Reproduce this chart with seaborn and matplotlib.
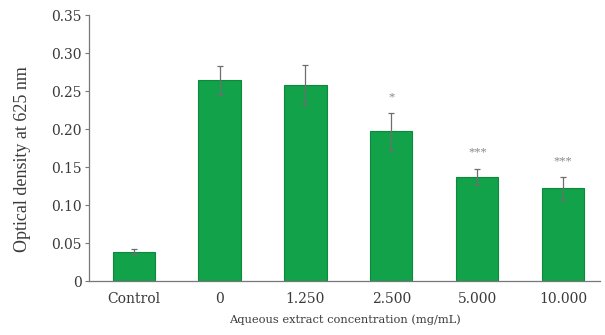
import matplotlib
matplotlib.use("Agg")
import matplotlib.pyplot as plt
import seaborn as sns
import pandas as pd

# Optical density per extract concentration
categories = ["Control", "0", "1.250", "2.500", "5.000", "10.000"]
means = [0.038, 0.264, 0.258, 0.197, 0.137, 0.122]
errors = [0.004, 0.019, 0.026, 0.024, 0.011, 0.015]
significance = ["", "", "", "*", "***", "***"]
yticks = [0, 0.05, 0.10, 0.15, 0.20, 0.25, 0.30, 0.35]
ytick_labels = ["0", "0.05", "0.10", "0.15", "0.20", "0.25", "0.30", "0.35"]

sns.set_style("white")
plt.rcParams["font.family"] = ["DejaVu Serif"]

df = pd.DataFrame({"conc": categories, "od": means})

fig = plt.figure(figsize=(6.05, 3.35), dpi=100)
ax = fig.add_axes([0.147, 0.161, 0.845, 0.794])

sns.barplot(data=df, x="conc", y="od", order=categories, color="#12a24a",
            saturation=1, width=0.49, edgecolor="#0c8a3c", linewidth=0.8,
            errorbar=None, ax=ax)

ax.errorbar(range(len(categories)), means, yerr=errors, fmt="none",
            ecolor="#6e6e6e", elinewidth=0.9, capsize=2.5, capthick=0.9)

for i, (m, e, s) in enumerate(zip(means, errors, significance)):
    if s:
        ax.text(i, m + e + 0.021, s, ha="center", va="center",
                fontsize=9, color="#8a8a8a",
                family=["Liberation Serif"])

ax.set_ylim(0, 0.35)
ax.set_xlim(-0.52, 5.43)
ax.set_yticks(yticks)
ax.set_yticklabels(ytick_labels)
ax.tick_params(axis="y", direction="out", length=3, width=0.8,
               color="#777777", labelsize=10, labelcolor="#3a3a3a", left=True,
               pad=2)
ax.tick_params(axis="x", length=0, labelsize=10, labelcolor="#3a3a3a", pad=8)

for side in ["top", "right"]:
    ax.spines[side].set_visible(False)
for side in ["left", "bottom"]:
    ax.spines[side].set_color("#777777")
    ax.spines[side].set_linewidth(0.9)

ax.set_xlabel("Aqueous extract concentration (mg/mL)", fontsize=8.2,
              color="#3a3a3a", labelpad=6)
ax.set_ylabel("Optical density at 625 nm", fontsize=13, color="#3a3a3a",
              family=["Liberation Serif"])
ax.yaxis.set_label_coords(-0.114, 0.46)

fig.savefig("out.png", dpi=100)
